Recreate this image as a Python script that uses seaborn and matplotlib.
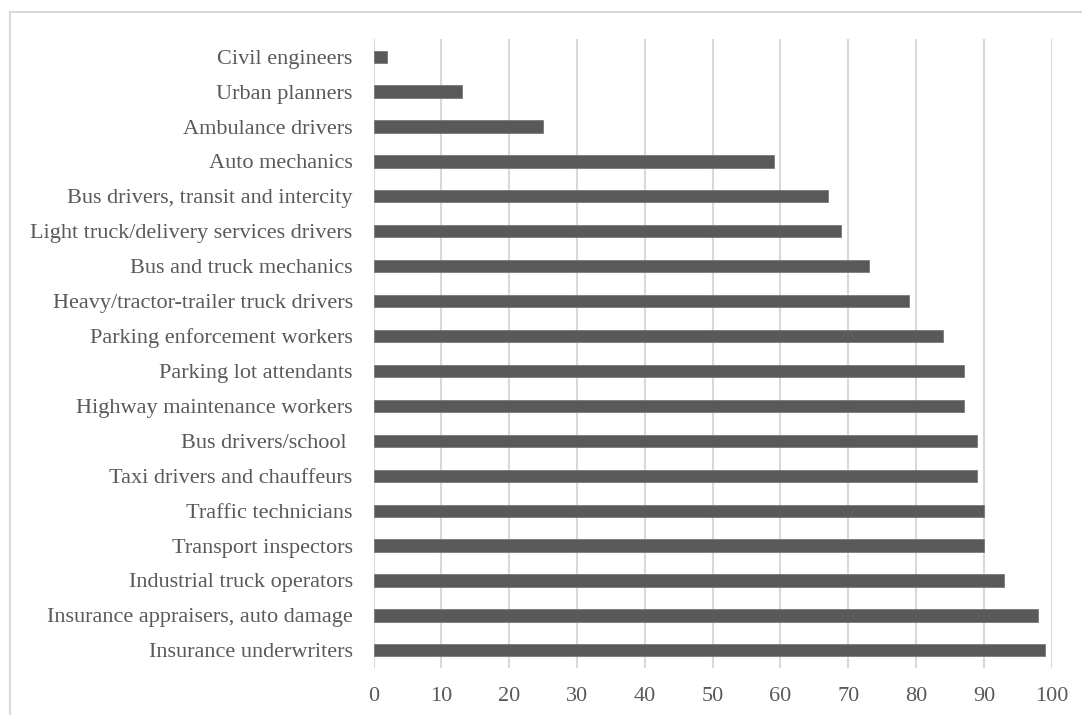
import matplotlib
matplotlib.use("Agg")
import matplotlib.pyplot as plt
import seaborn as sns
import pandas as pd
from matplotlib.patches import Rectangle

occupations = [
    "Civil engineers",
    "Urban planners",
    "Ambulance drivers",
    "Auto mechanics",
    "Bus drivers, transit and intercity",
    "Light truck/delivery services drivers",
    "Bus and truck mechanics",
    "Heavy/tractor-trailer truck drivers",
    "Parking enforcement workers",
    "Parking lot attendants",
    "Highway maintenance workers",
    "Bus drivers/school ",
    "Taxi drivers and chauffeurs",
    "Traffic technicians",
    "Transport inspectors",
    "Industrial truck operators",
    "Insurance appraisers, auto damage",
    "Insurance underwriters",
]
values = [2, 13, 25, 59, 67, 69, 73, 79, 84, 87, 87, 89, 89, 90, 90, 93, 98, 99]
x_ticks = [0, 10, 20, 30, 40, 50, 60, 70, 80, 90, 100]

sns.set_theme(style="white")
plt.rcParams["font.family"] = ["Liberation Serif", "DejaVu Serif"]

df = pd.DataFrame({"occupation": occupations, "value": values})

fig = plt.figure(figsize=(10.82, 7.15), dpi=100)
ax = fig.add_axes([373.5 / 1082, 1 - 667.8 / 715, (1051.7 - 373.5) / 1082, (667.8 - 39.2) / 715])

sns.barplot(data=df, y="occupation", x="value", orient="h", color="#595959",
            saturation=1, width=0.35, ax=ax, edgecolor="#707070", linewidth=0.5)

ax.set_xlim(0, 100)
ax.set_ylim(len(occupations) - 0.5, -0.5)
ax.set_xticks(x_ticks)
ax.set_xticklabels([str(t) for t in x_ticks])
ax.set_xlabel("")
ax.set_ylabel("")
ax.xaxis.grid(True, color="#d9d9d9", linewidth=1.5)
ax.yaxis.grid(False)
ax.set_axisbelow(True)
for s in ax.spines.values():
    s.set_visible(False)
ax.tick_params(axis="both", length=0, labelsize=16, labelcolor="#595959")
ax.tick_params(axis="y", pad=15)
ax.tick_params(axis="x", pad=14)

# outer chart border (partly outside the image)
fig.patches.append(Rectangle((10 / 1082, -0.1), 1.2, 1 - 11.5 / 715 + 0.1,
                             transform=fig.transFigure, fill=False,
                             edgecolor="#d9d9d9", linewidth=1.5))

fig.savefig("out.png", dpi=100)
